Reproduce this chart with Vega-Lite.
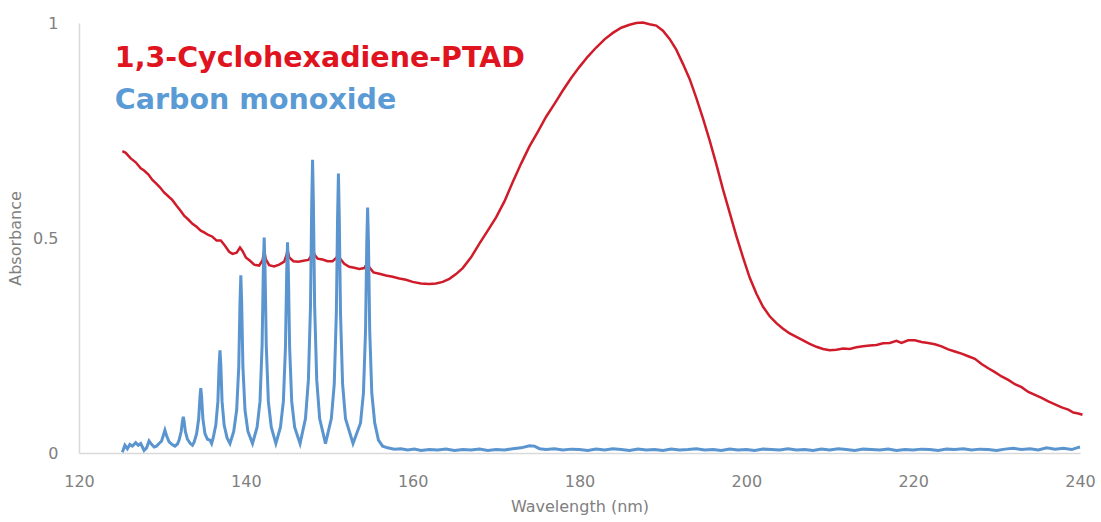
{
  "$schema": "https://vega.github.io/schema/vega-lite/v6.json",
  "width": 1001,
  "height": 430,
  "autosize": {"type": "none"},
  "padding": {"left": 79, "top": 23, "right": 21, "bottom": 69},
  "background": "white",
  "config": {"view": {"stroke": null}, "font": "DejaVu Sans"},
  "datasets": {
    "ptad": [
      {"wavelength":125.2,"absorbance":0.702},{"wavelength":125.6,"absorbance":0.698},{"wavelength":126.2,"absorbance":0.685},{"wavelength":126.8,"absorbance":0.676},{"wavelength":127.4,"absorbance":0.662},{"wavelength":127.8,"absorbance":0.657},{"wavelength":128.3,"absorbance":0.648},{"wavelength":128.8,"absorbance":0.635},{"wavelength":129.3,"absorbance":0.626},{"wavelength":129.7,"absorbance":0.618},{"wavelength":130.2,"absorbance":0.606},{"wavelength":130.7,"absorbance":0.597},{"wavelength":131.2,"absorbance":0.588},{"wavelength":131.7,"absorbance":0.575},{"wavelength":132.2,"absorbance":0.563},{"wavelength":132.6,"absorbance":0.552},{"wavelength":133.1,"absorbance":0.543},{"wavelength":133.6,"absorbance":0.533},{"wavelength":134.1,"absorbance":0.526},{"wavelength":134.6,"absorbance":0.517},{"wavelength":135.0,"absorbance":0.513},{"wavelength":135.5,"absorbance":0.507},{"wavelength":136.0,"absorbance":0.503},{"wavelength":136.5,"absorbance":0.494},{"wavelength":137.0,"absorbance":0.494},{"wavelength":137.5,"absorbance":0.482},{"wavelength":138.0,"absorbance":0.468},{"wavelength":138.4,"absorbance":0.463},{"wavelength":138.9,"absorbance":0.466},{"wavelength":139.3,"absorbance":0.478},{"wavelength":139.6,"absorbance":0.470},{"wavelength":140.0,"absorbance":0.455},{"wavelength":140.5,"absorbance":0.447},{"wavelength":141.0,"absorbance":0.438},{"wavelength":141.6,"absorbance":0.436},{"wavelength":142.0,"absorbance":0.448},{"wavelength":142.2,"absorbance":0.470},{"wavelength":142.4,"absorbance":0.450},{"wavelength":142.8,"absorbance":0.437},{"wavelength":143.4,"absorbance":0.434},{"wavelength":144.0,"absorbance":0.438},{"wavelength":144.6,"absorbance":0.445},{"wavelength":144.9,"absorbance":0.462},{"wavelength":145.0,"absorbance":0.472},{"wavelength":145.2,"absorbance":0.455},{"wavelength":145.7,"absorbance":0.446},{"wavelength":146.3,"absorbance":0.445},{"wavelength":146.9,"absorbance":0.447},{"wavelength":147.5,"absorbance":0.449},{"wavelength":147.8,"absorbance":0.458},{"wavelength":148.0,"absorbance":0.487},{"wavelength":148.2,"absorbance":0.462},{"wavelength":148.6,"absorbance":0.452},{"wavelength":149.2,"absorbance":0.450},{"wavelength":149.8,"absorbance":0.446},{"wavelength":150.4,"absorbance":0.446},{"wavelength":150.9,"absorbance":0.455},{"wavelength":151.1,"absorbance":0.471},{"wavelength":151.3,"absorbance":0.452},{"wavelength":151.8,"absorbance":0.440},{"wavelength":152.4,"absorbance":0.433},{"wavelength":153.0,"absorbance":0.431},{"wavelength":153.6,"absorbance":0.428},{"wavelength":154.2,"absorbance":0.430},{"wavelength":154.5,"absorbance":0.440},{"wavelength":154.6,"absorbance":0.445},{"wavelength":154.8,"absorbance":0.432},{"wavelength":155.3,"absorbance":0.420},{"wavelength":156.0,"absorbance":0.417},{"wavelength":156.8,"absorbance":0.413},{"wavelength":157.6,"absorbance":0.410},{"wavelength":158.4,"absorbance":0.406},{"wavelength":159.2,"absorbance":0.403},{"wavelength":160.0,"absorbance":0.398},{"wavelength":161.0,"absorbance":0.394},{"wavelength":162.0,"absorbance":0.393},{"wavelength":162.8,"absorbance":0.394},{"wavelength":163.6,"absorbance":0.398},{"wavelength":164.4,"absorbance":0.405},{"wavelength":165.2,"absorbance":0.416},{"wavelength":166.0,"absorbance":0.430},{"wavelength":167.0,"absorbance":0.455},{"wavelength":168.0,"absorbance":0.487},{"wavelength":169.0,"absorbance":0.517},{"wavelength":170.0,"absorbance":0.548},{"wavelength":171.0,"absorbance":0.585},{"wavelength":172.0,"absorbance":0.630},{"wavelength":173.0,"absorbance":0.673},{"wavelength":174.0,"absorbance":0.713},{"wavelength":175.0,"absorbance":0.747},{"wavelength":176.0,"absorbance":0.782},{"wavelength":177.0,"absorbance":0.812},{"wavelength":178.0,"absorbance":0.843},{"wavelength":179.0,"absorbance":0.872},{"wavelength":180.0,"absorbance":0.898},{"wavelength":181.0,"absorbance":0.922},{"wavelength":182.0,"absorbance":0.943},{"wavelength":183.0,"absorbance":0.962},{"wavelength":184.0,"absorbance":0.977},{"wavelength":185.0,"absorbance":0.989},{"wavelength":186.0,"absorbance":0.996},{"wavelength":186.8,"absorbance":1.000},{"wavelength":187.6,"absorbance":1.001},{"wavelength":188.4,"absorbance":0.997},{"wavelength":189.2,"absorbance":0.994},{"wavelength":190.0,"absorbance":0.982},{"wavelength":190.8,"absorbance":0.963},{"wavelength":191.6,"absorbance":0.938},{"wavelength":192.4,"absorbance":0.905},{"wavelength":193.2,"absorbance":0.870},{"wavelength":194.0,"absorbance":0.826},{"wavelength":194.8,"absorbance":0.778},{"wavelength":195.6,"absorbance":0.727},{"wavelength":196.4,"absorbance":0.672},{"wavelength":197.2,"absorbance":0.613},{"wavelength":198.0,"absorbance":0.559},{"wavelength":198.8,"absorbance":0.505},{"wavelength":199.6,"absorbance":0.455},{"wavelength":200.4,"absorbance":0.408},{"wavelength":201.2,"absorbance":0.371},{"wavelength":202.0,"absorbance":0.340},{"wavelength":202.8,"absorbance":0.318},{"wavelength":203.6,"absorbance":0.302},{"wavelength":204.4,"absorbance":0.289},{"wavelength":205.2,"absorbance":0.278},{"wavelength":206.0,"absorbance":0.270},{"wavelength":206.8,"absorbance":0.262},{"wavelength":207.6,"absorbance":0.254},{"wavelength":208.4,"absorbance":0.247},{"wavelength":209.2,"absorbance":0.242},{"wavelength":210.0,"absorbance":0.239},{"wavelength":210.8,"absorbance":0.240},{"wavelength":211.6,"absorbance":0.243},{"wavelength":212.4,"absorbance":0.242},{"wavelength":213.2,"absorbance":0.246},{"wavelength":214.0,"absorbance":0.248},{"wavelength":214.8,"absorbance":0.250},{"wavelength":215.6,"absorbance":0.251},{"wavelength":216.4,"absorbance":0.255},{"wavelength":217.2,"absorbance":0.256},{"wavelength":218.0,"absorbance":0.261},{"wavelength":218.6,"absorbance":0.256},{"wavelength":219.4,"absorbance":0.262},{"wavelength":220.2,"absorbance":0.262},{"wavelength":221.0,"absorbance":0.258},{"wavelength":221.8,"absorbance":0.256},{"wavelength":222.6,"absorbance":0.253},{"wavelength":223.4,"absorbance":0.248},{"wavelength":224.2,"absorbance":0.241},{"wavelength":225.0,"absorbance":0.236},{"wavelength":225.8,"absorbance":0.231},{"wavelength":226.6,"absorbance":0.225},{"wavelength":227.4,"absorbance":0.219},{"wavelength":228.2,"absorbance":0.207},{"wavelength":229.0,"absorbance":0.197},{"wavelength":229.8,"absorbance":0.188},{"wavelength":230.6,"absorbance":0.178},{"wavelength":231.4,"absorbance":0.170},{"wavelength":232.2,"absorbance":0.160},{"wavelength":233.0,"absorbance":0.153},{"wavelength":233.8,"absorbance":0.142},{"wavelength":234.6,"absorbance":0.135},{"wavelength":235.4,"absorbance":0.128},{"wavelength":236.2,"absorbance":0.120},{"wavelength":237.0,"absorbance":0.113},{"wavelength":237.8,"absorbance":0.106},{"wavelength":238.6,"absorbance":0.101},{"wavelength":239.2,"absorbance":0.094},{"wavelength":239.8,"absorbance":0.092},{"wavelength":240.3,"absorbance":0.089}
    ],
    "co": [
      {"wavelength":125.2,"absorbance":0.002},{"wavelength":125.5,"absorbance":0.018},{"wavelength":125.8,"absorbance":0.010},{"wavelength":126.1,"absorbance":0.020},{"wavelength":126.4,"absorbance":0.016},{"wavelength":126.8,"absorbance":0.024},{"wavelength":127.1,"absorbance":0.018},{"wavelength":127.4,"absorbance":0.022},{"wavelength":127.8,"absorbance":0.006},{"wavelength":128.1,"absorbance":0.012},{"wavelength":128.4,"absorbance":0.028},{"wavelength":128.7,"absorbance":0.020},{"wavelength":129.0,"absorbance":0.014},{"wavelength":129.3,"absorbance":0.016},
      {"wavelength":129.6,"absorbance":0.022},{"wavelength":129.9,"absorbance":0.028},{"wavelength":130.1,"absorbance":0.040},{"wavelength":130.3,"absorbance":0.053},{"wavelength":130.5,"absorbance":0.040},{"wavelength":130.8,"absorbance":0.026},{"wavelength":131.2,"absorbance":0.019},{"wavelength":131.5,"absorbance":0.016},
      {"wavelength":131.8,"absorbance":0.021},{"wavelength":132.0,"absorbance":0.030},{"wavelength":132.25,"absorbance":0.050},{"wavelength":132.4,"absorbance":0.074},{"wavelength":132.5,"absorbance":0.084},{"wavelength":132.6,"absorbance":0.074},{"wavelength":132.75,"absorbance":0.050},{"wavelength":133.0,"absorbance":0.032},{"wavelength":133.35,"absorbance":0.022},{"wavelength":133.6,"absorbance":0.018},
      {"wavelength":133.8,"absorbance":0.025},{"wavelength":134.1,"absorbance":0.045},{"wavelength":134.35,"absorbance":0.080},{"wavelength":134.5,"absorbance":0.130},{"wavelength":134.6,"absorbance":0.151},{"wavelength":134.7,"absorbance":0.130},{"wavelength":134.85,"absorbance":0.080},{"wavelength":135.1,"absorbance":0.045},{"wavelength":135.4,"absorbance":0.032},{"wavelength":135.7,"absorbance":0.030},{"wavelength":135.9,"absorbance":0.022},
      {"wavelength":136.1,"absorbance":0.036},{"wavelength":136.4,"absorbance":0.065},{"wavelength":136.65,"absorbance":0.120},{"wavelength":136.8,"absorbance":0.205},{"wavelength":136.9,"absorbance":0.239},{"wavelength":137.0,"absorbance":0.205},{"wavelength":137.15,"absorbance":0.120},{"wavelength":137.4,"absorbance":0.065},{"wavelength":137.75,"absorbance":0.035},{"wavelength":138.1,"absorbance":0.022},
      {"wavelength":138.55,"absorbance":0.050},{"wavelength":138.9,"absorbance":0.100},{"wavelength":139.15,"absorbance":0.200},{"wavelength":139.3,"absorbance":0.350},{"wavelength":139.4,"absorbance":0.413},{"wavelength":139.5,"absorbance":0.350},{"wavelength":139.65,"absorbance":0.200},{"wavelength":139.9,"absorbance":0.100},{"wavelength":140.25,"absorbance":0.050},{"wavelength":140.8,"absorbance":0.022},
      {"wavelength":141.35,"absorbance":0.060},{"wavelength":141.7,"absorbance":0.120},{"wavelength":141.95,"absorbance":0.250},{"wavelength":142.1,"absorbance":0.430},{"wavelength":142.2,"absorbance":0.501},{"wavelength":142.3,"absorbance":0.430},{"wavelength":142.45,"absorbance":0.250},{"wavelength":142.7,"absorbance":0.120},{"wavelength":143.05,"absorbance":0.060},{"wavelength":143.6,"absorbance":0.022},
      {"wavelength":144.15,"absorbance":0.060},{"wavelength":144.5,"absorbance":0.120},{"wavelength":144.75,"absorbance":0.245},{"wavelength":144.9,"absorbance":0.420},{"wavelength":145.0,"absorbance":0.490},{"wavelength":145.1,"absorbance":0.420},{"wavelength":145.25,"absorbance":0.245},{"wavelength":145.5,"absorbance":0.120},{"wavelength":145.85,"absorbance":0.060},{"wavelength":146.5,"absorbance":0.022},
      {"wavelength":147.15,"absorbance":0.080},{"wavelength":147.5,"absorbance":0.170},{"wavelength":147.75,"absorbance":0.340},{"wavelength":147.9,"absorbance":0.580},{"wavelength":148.0,"absorbance":0.682},{"wavelength":148.1,"absorbance":0.580},{"wavelength":148.25,"absorbance":0.340},{"wavelength":148.5,"absorbance":0.170},{"wavelength":148.85,"absorbance":0.080},{"wavelength":149.55,"absorbance":0.022},
      {"wavelength":150.25,"absorbance":0.080},{"wavelength":150.6,"absorbance":0.160},{"wavelength":150.85,"absorbance":0.325},{"wavelength":151.0,"absorbance":0.550},{"wavelength":151.1,"absorbance":0.650},{"wavelength":151.2,"absorbance":0.550},{"wavelength":151.35,"absorbance":0.325},{"wavelength":151.6,"absorbance":0.160},{"wavelength":151.95,"absorbance":0.080},{"wavelength":152.85,"absorbance":0.022},
      {"wavelength":153.75,"absorbance":0.070},{"wavelength":154.1,"absorbance":0.140},{"wavelength":154.35,"absorbance":0.285},{"wavelength":154.5,"absorbance":0.490},{"wavelength":154.6,"absorbance":0.571},{"wavelength":154.7,"absorbance":0.490},{"wavelength":154.85,"absorbance":0.285},{"wavelength":155.1,"absorbance":0.140},{"wavelength":155.45,"absorbance":0.070},{"wavelength":155.9,"absorbance":0.030},{"wavelength":156.4,"absorbance":0.016},{"wavelength":157.0,"absorbance":0.012},{"wavelength":157.8,"absorbance":0.009},{"wavelength":158.6,"absorbance":0.010},{"wavelength":159.4,"absorbance":0.007},{"wavelength":160.2,"absorbance":0.009},{"wavelength":161.0,"absorbance":0.006},
      {"wavelength":162,"absorbance":0.008},{"wavelength":163,"absorbance":0.007},{"wavelength":164,"absorbance":0.009},{"wavelength":165,"absorbance":0.006},{"wavelength":166,"absorbance":0.008},{"wavelength":167,"absorbance":0.007},{"wavelength":168,"absorbance":0.009},{"wavelength":169,"absorbance":0.006},{"wavelength":170,"absorbance":0.008},{"wavelength":171,"absorbance":0.007},{"wavelength":172,"absorbance":0.010},{"wavelength":173,"absorbance":0.012},{"wavelength":174,"absorbance":0.017},{"wavelength":174.6,"absorbance":0.016},{"wavelength":175.2,"absorbance":0.010},{"wavelength":176,"absorbance":0.008},{"wavelength":177,"absorbance":0.010},{"wavelength":178,"absorbance":0.007},{"wavelength":179,"absorbance":0.009},{"wavelength":180,"absorbance":0.008},{"wavelength":181,"absorbance":0.006},{"wavelength":182,"absorbance":0.009},{"wavelength":183,"absorbance":0.007},{"wavelength":184,"absorbance":0.010},{"wavelength":185,"absorbance":0.008},{"wavelength":186,"absorbance":0.006},{"wavelength":187,"absorbance":0.009},{"wavelength":188,"absorbance":0.007},{"wavelength":189,"absorbance":0.008},{"wavelength":190,"absorbance":0.006},{"wavelength":191,"absorbance":0.009},{"wavelength":192,"absorbance":0.007},{"wavelength":193,"absorbance":0.008},{"wavelength":194,"absorbance":0.010},{"wavelength":195,"absorbance":0.007},{"wavelength":196,"absorbance":0.008},{"wavelength":197,"absorbance":0.006},{"wavelength":198,"absorbance":0.009},{"wavelength":199,"absorbance":0.007},{"wavelength":200,"absorbance":0.008},{"wavelength":201,"absorbance":0.006},{"wavelength":202,"absorbance":0.009},{"wavelength":203,"absorbance":0.008},{"wavelength":204,"absorbance":0.007},{"wavelength":205,"absorbance":0.010},{"wavelength":206,"absorbance":0.007},{"wavelength":207,"absorbance":0.008},{"wavelength":208,"absorbance":0.006},{"wavelength":209,"absorbance":0.009},{"wavelength":210,"absorbance":0.007},{"wavelength":211,"absorbance":0.010},{"wavelength":212,"absorbance":0.008},{"wavelength":213,"absorbance":0.006},{"wavelength":214,"absorbance":0.009},{"wavelength":215,"absorbance":0.008},{"wavelength":216,"absorbance":0.007},{"wavelength":217,"absorbance":0.009},{"wavelength":218,"absorbance":0.006},{"wavelength":219,"absorbance":0.008},{"wavelength":220,"absorbance":0.007},{"wavelength":221,"absorbance":0.009},{"wavelength":222,"absorbance":0.008},{"wavelength":223,"absorbance":0.006},{"wavelength":224,"absorbance":0.009},{"wavelength":225,"absorbance":0.008},{"wavelength":226,"absorbance":0.010},{"wavelength":227,"absorbance":0.007},{"wavelength":228,"absorbance":0.009},{"wavelength":229,"absorbance":0.008},{"wavelength":230,"absorbance":0.006},{"wavelength":231,"absorbance":0.009},{"wavelength":232,"absorbance":0.011},{"wavelength":233,"absorbance":0.008},{"wavelength":234,"absorbance":0.010},{"wavelength":235,"absorbance":0.007},{"wavelength":236,"absorbance":0.012},{"wavelength":237,"absorbance":0.009},{"wavelength":238,"absorbance":0.011},{"wavelength":239,"absorbance":0.008},{"wavelength":239.6,"absorbance":0.012},{"wavelength":240.0,"absorbance":0.014}
    ],
    "labels": [
      {"label": "1,3-Cyclohexadiene-PTAD", "series": "PTAD", "wavelength": 124.3, "absorbance": 0.897},
      {"label": "Carbon monoxide", "series": "CO", "wavelength": 124.3, "absorbance": 0.799}
    ]
  },
  "encoding": {
    "x": {
      "field": "wavelength", "type": "quantitative",
      "scale": {"domain": [120, 240], "nice": false, "zero": false},
      "axis": {
        "title": "Wavelength (nm)", "values": [120, 140, 160, 180, 200, 220, 240],
        "grid": false, "ticks": false, "tickSize": 0, "labelFlush": false, "labelOverlap": false,
        "domainColor": "#d9d9d9", "domainWidth": 1.5,
        "labelFont": "DejaVu Sans", "labelFontSize": 16, "labelColor": "#808080", "labelPadding": 20,
        "titleFont": "DejaVu Sans", "titleFontSize": 16, "titleFontWeight": "normal", "titleColor": "#808080", "titlePadding": 9
      }
    },
    "y": {
      "field": "absorbance", "type": "quantitative",
      "scale": {"domain": [0, 1], "nice": false},
      "axis": {
        "title": "Absorbance", "values": [0, 0.5, 1], "format": "~g",
        "grid": false, "ticks": false, "tickSize": 0, "labelFlush": false, "labelOverlap": false,
        "domainColor": "#d9d9d9", "domainWidth": 1.5,
        "labelFont": "DejaVu Sans", "labelFontSize": 16, "labelColor": "#808080", "labelPadding": 21,
        "titleFont": "DejaVu Sans", "titleFontSize": 16, "titleFontWeight": "normal", "titleColor": "#808080", "titlePadding": 9
      }
    }
  },
  "layer": [
    {"data": {"name": "ptad"}, "mark": {"type": "line", "color": "#d01c2a", "strokeWidth": 2.5}},
    {"data": {"name": "co"}, "mark": {"type": "line", "color": "#5b95cf", "strokeWidth": 3}},
    {
      "data": {"name": "labels"},
      "mark": {"type": "text", "align": "left", "baseline": "alphabetic", "font": "DejaVu Sans", "fontWeight": "bold", "fontSize": 28.5},
      "encoding": {
        "text": {"field": "label"},
        "color": {"field": "series", "type": "nominal", "scale": {"domain": ["PTAD", "CO"], "range": ["#e0141e", "#5b9bd5"]}, "legend": null}
      }
    }
  ]
}
